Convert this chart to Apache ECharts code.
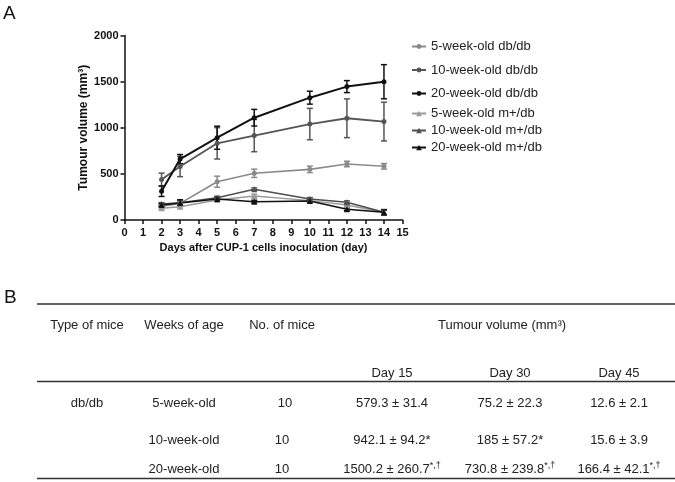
<!DOCTYPE html>
<html>
<head>
<meta charset="utf-8">
<script src="https://cdn.jsdelivr.net/npm/echarts@6/dist/echarts.min.js"></script>
<style>
html,body{margin:0;padding:0;background:#fff;}
#chart{width:675px;height:482px;}
</style>
</head>
<body>
<div id="chart"></div>
<script>
// ---------- Panel A data ----------
const days = [2, 3, 5, 7, 10, 12, 14];
const seriesNames = ['5-week-old db/db', '10-week-old db/db', '20-week-old db/db',
                     '5-week-old m+/db', '10-week-old m+/db', '20-week-old m+/db'];
const db5 = [150, 180, 415, 506, 549, 607, 582];
const db5Err = [20, 20, 60, 45, 35, 30, 30];
const db10 = [438, 580, 831, 915, 1040, 1103, 1067];
const db10Err = [70, 110, 170, 175, 170, 210, 210];
const db20 = [312, 660, 892, 1109, 1326, 1446, 1499];
const db20Err = [57, 50, 125, 90, 70, 65, 185];
const m5 = [127, 144, 217, 260, 210, 163, 83];
const m5Err = [15, 15, 15, 20, 15, 15, 20];
const m10 = [173, 188, 242, 333, 228, 192, 83];
const m10Err = [15, 20, 15, 15, 15, 15, 25];
const m20 = [163, 185, 228, 199, 206, 116, 83];
const m20Err = [15, 35, 15, 15, 15, 15, 30];
const yTicks = [0, 500, 1000, 1500, 2000];

// ---------- Panel B table data ----------
const tableHeader = ['Type of mice', 'Weeks of age', 'No. of mice'];
const tableSpanHeader = 'Tumour volume (mm³)';
const dayHeaders = ['Day 15', 'Day 30', 'Day 45'];
const miceType = ['db/db', '', ''];
const weeksOfAge = ['5-week-old', '10-week-old', '20-week-old'];
const miceCount = ['10', '10', '10'];
const day15 = [['579.3 ± 31.4', ''], ['942.1 ± 94.2*', ''], ['1500.2 ± 260.7', '*,†']];
const day30 = [['75.2 ± 22.3', ''], ['185 ± 57.2*', ''], ['730.8 ± 239.8', '*,†']];
const day45 = [['12.6 ± 2.1', ''], ['15.6 ± 3.9', ''], ['166.4 ± 42.1', '*,†']];

const FONT = '"Liberation Sans", Arial, sans-serif';
const colorsDb = ['#8a8a8a', '#555555', '#111111'];
const colorsM = ['#9a9a9a', '#4f4f4f', '#111111'];

const means = [db5, db10, db20, m5, m10, m20];
const errs = [db5Err, db10Err, db20Err, m5Err, m10Err, m20Err];
const colors = [colorsDb[0], colorsDb[1], colorsDb[2], colorsM[0], colorsM[1], colorsM[2]];
const symbols = ['circle', 'circle', 'circle', 'triangle', 'triangle', 'triangle'];
const symbolSizes = [5, 5, 5, 6, 6, 6];
const lineWidths = [1.6, 1.8, 2, 1.5, 1.5, 1.5];

const series = [];
means.forEach((m, i) => {
  const c = colors[i];
  series.push({
    type: 'custom',
    name: seriesNames[i] + ' err',
    z: 2,
    silent: true,
    data: days.map((d, j) => [d, m[j], errs[i][j]]),
    renderItem: function (params, api) {
      const x = api.value(0), y = api.value(1), e = api.value(2);
      const top = api.coord([x, y + e]);
      const bot = api.coord([x, y - e]);
      const hw = 3;
      return {
        type: 'group',
        children: [
          { type: 'line', shape: { x1: top[0], y1: top[1], x2: bot[0], y2: bot[1] }, style: { stroke: c, lineWidth: 1.5 } },
          { type: 'line', shape: { x1: top[0] - hw, y1: top[1], x2: top[0] + hw, y2: top[1] }, style: { stroke: c, lineWidth: 1.5 } },
          { type: 'line', shape: { x1: bot[0] - hw, y1: bot[1], x2: bot[0] + hw, y2: bot[1] }, style: { stroke: c, lineWidth: 1.5 } }
        ]
      };
    }
  });
  series.push({
    type: 'line',
    name: seriesNames[i],
    z: 3,
    data: days.map((d, j) => [d, m[j]]),
    symbol: symbols[i],
    symbolSize: symbolSizes[i],
    showAllSymbol: true,
    lineStyle: { color: c, width: lineWidths[i] },
    itemStyle: { color: c },
    emphasis: { disabled: true },
    animation: false
  });
});

// ---------- table graphics ----------
const g = [];
function txt(x, y, t, opts) {
  g.push(Object.assign({
    type: 'text', x: x, y: y,
    style: Object.assign({ text: t, font: '13px ' + FONT, fill: '#222', align: 'center', verticalAlign: 'middle' }, opts || {})
  }));
}
function hline(y, x1, x2) {
  g.push({ type: 'line', shape: { x1: x1, y1: y, x2: x2, y2: y }, style: { stroke: '#333', lineWidth: 1.5 } });
}
// Panel labels
g.push({ type: 'text', left: 3, top: 4, style: { text: 'A', font: '19px ' + FONT, fill: '#111' } });
g.push({ type: 'text', left: 4, top: 288, style: { text: 'B', font: '19px ' + FONT, fill: '#111' } });

hline(304, 37, 675);
hline(381.5, 37, 675);
hline(478.5, 37, 675);

const colX = [87, 184, 282, 392, 510, 619];
txt(colX[0], 325, tableHeader[0]);
txt(colX[1], 325, tableHeader[1]);
txt(colX[2], 325, tableHeader[2]);
txt(502, 325, tableSpanHeader);
dayHeaders.forEach((d, i) => txt(colX[3 + i], 373.5, d));
const rowY = [403, 440, 469.5];
rowY.forEach((y, r) => {
  if (miceType[r]) txt(colX[0], y, miceType[r]);
  txt(colX[1], y, weeksOfAge[r]);
  txt(colX[2] + (r === 0 ? 3 : 0), y, miceCount[r]);
  [day15, day30, day45].forEach((col, k) => {
    const v = col[r];
    if (v[1]) {
      g.push({
        type: 'text', x: colX[3 + k], y: y,
        style: {
          text: '{a|' + v[0] + '}{s|' + v[1] + '}',
          align: 'center', verticalAlign: 'middle', fill: '#222',
          rich: {
            a: { font: '13px ' + FONT, fill: '#222', lineHeight: 16 },
            s: { font: '9px ' + FONT, fill: '#222', lineHeight: 16, verticalAlign: 'top', padding: [0, 0, 6, 0] }
          }
        }
      });
    } else {
      txt(colX[3 + k], y, v[0]);
    }
  });
});

const chart = echarts.init(document.getElementById('chart'), null, { renderer: 'canvas' });
const legendText = { fontFamily: FONT, fontSize: 13, color: '#222' };
chart.setOption({
  animation: false,
  backgroundColor: '#fff',
  grid: { left: 124.5, right: 272.5, top: 35.5, bottom: 262, containLabel: false },
  legend: [
    { data: seriesNames.slice(0, 3), orient: 'vertical', left: 406, top: 35, itemWidth: 14, itemHeight: 6, itemGap: 10.5, textStyle: legendText, selectedMode: false },
    { data: seriesNames.slice(3), orient: 'vertical', left: 406, top: 102, itemWidth: 14, itemHeight: 7, itemGap: 4, textStyle: legendText, selectedMode: false }
  ],
  xAxis: {
    type: 'value', min: 0, max: 15, interval: 1,
    name: 'Days after CUP-1 cells inoculation (day)',
    nameLocation: 'middle', nameGap: 22,
    nameTextStyle: { fontFamily: FONT, fontWeight: 'bold', fontSize: 11, color: '#111' },
    axisLine: { show: true, onZero: false, lineStyle: { color: '#111', width: 1.5 } },
    axisTick: { show: true, length: 4, lineStyle: { color: '#111', width: 1.5 } },
    axisLabel: { fontFamily: FONT, fontWeight: 'bold', fontSize: 11, color: '#111', margin: 7, interval: 0 },
    splitLine: { show: false }
  },
  yAxis: {
    type: 'value', min: yTicks[0], max: yTicks[yTicks.length - 1], interval: yTicks[1] - yTicks[0],
    name: 'Tumour volume (mm³)',
    nameLocation: 'middle', nameGap: 34, nameRotate: 90,
    nameTextStyle: { fontFamily: FONT, fontWeight: 'bold', fontSize: 12, color: '#111' },
    axisLine: { show: true, lineStyle: { color: '#111', width: 1.5 } },
    axisTick: { show: true, length: 4, lineStyle: { color: '#111', width: 1.5 } },
    axisLabel: { fontFamily: FONT, fontWeight: 'bold', fontSize: 11, color: '#111', margin: 6, formatter: v => String(v) },
    splitLine: { show: false }
  },
  series: series,
  graphic: g
});
</script>
</body>
</html>
